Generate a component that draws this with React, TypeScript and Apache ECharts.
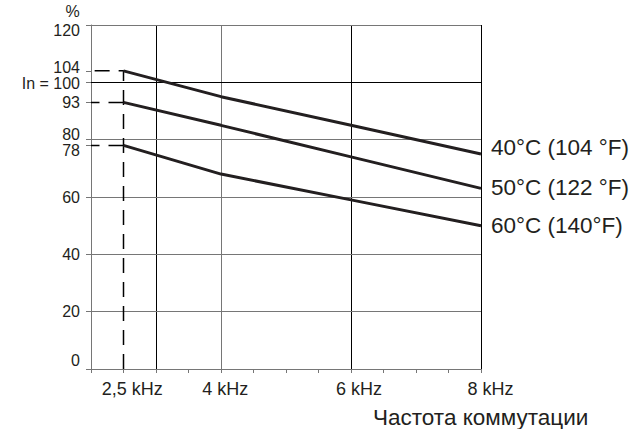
import React, { useEffect, useRef } from 'react';
import * as echarts from 'echarts';

// ---- data ----
const frequencies = [2.5, 4, 6, 8]; // kHz
const temp40 = [104, 95, 85, 75];
const temp50 = [93, 85, 74, 63];
const temp60 = [78, 68, 59, 50];
const seriesNames = ['40°C (104 °F)', '50°C (122 °F)', '60°C (140°F)'];

const yTickValues = [0, 20, 40, 60, 78, 80, 93, 100, 104, 120];
const yTickLabels = ['0', '20', '40', '60', '78', '80', '93', 'In = 100', '104', '120'];
const xTickValues = [2.5, 4, 6, 8];
const xTickLabels = ['2,5 kHz', '4 kHz', '6 kHz', '8 kHz'];
const xGridValues = [3, 4, 6, 8];
const yGridValues = [20, 40, 60, 80, 100, 120];
const yUnit = '%';
const xTitle = 'Частота коммутации';

const X_MIN = 2;
const X_MAX = 8;
const Y_MIN = 0;
const Y_MAX = 120;

// ---- styles / layout ----
const FONT = '"Liberation Sans", Arial, Helvetica, sans-serif';
const INK = '#231f20';
const GRAY = '#767676';
const BLACK = '#000000';
const xGridColors: Record<number, string> = { 3: BLACK, 4: GRAY, 6: BLACK, 8: BLACK };
const yGridColors: Record<number, string> = { 20: GRAY, 40: GRAY, 60: GRAY, 80: GRAY, 100: BLACK, 120: GRAY };
const yLabelShift: Record<number, number> = { 0: -9, 80: -5.5, 78: 5, 100: 1, 104: -3, 120: 5 };
const xLabelShift: Record<number, number> = { 2.5: 8.7, 4: 4.3, 6: 8, 8: 9.5 };
const endLabelDy = [-7, -1, 0];
const Y_LABEL_SIZE = 16;
const X_LABEL_SIZE = 18;
const BIG_SIZE = 22.5;

function idxOf(arr: number[], v: number) {
  return arr.findIndex((a) => Math.abs(a - v) < 1e-6);
}

function buildOption() {
  const yRich: Record<string, any> = {};
  yTickValues.forEach((v, i) => {
    const s = yLabelShift[v] || 0;
    yRich['y' + i] = {
      fontSize: Y_LABEL_SIZE,
      fontFamily: FONT,
      color: INK,
      padding: s < 0 ? [0, 0, -2 * s, 0] : [2 * s, 0, 0, 0],
    };
  });
  const xRich: Record<string, any> = {};
  xTickValues.forEach((v, i) => {
    const s = xLabelShift[v] || 0;
    xRich['x' + i] = {
      fontSize: X_LABEL_SIZE,
      fontFamily: FONT,
      color: INK,
      padding: [0, 0, 0, 2 * s],
    };
  });

  const curves = [temp40, temp50, temp60].map((vals, k) => ({
    type: 'line',
    name: seriesNames[k],
    data: frequencies.map((f, i) => [f, vals[i]]),
    symbol: 'none',
    showSymbol: false,
    z: 4,
    lineStyle: { color: INK, width: 3 },
    itemStyle: { color: INK },
    endLabel: {
      show: true,
      formatter: seriesNames[k],
      distance: 10,
      offset: [0, endLabelDy[k]],
      fontSize: BIG_SIZE,
      fontFamily: FONT,
      color: INK,
    },
    silent: true,
  }));

  const starts = [temp40[0], temp50[0], temp60[0]];
  const dashed = starts.map((s, k) => ({
    type: 'line',
    data:
      k === 0
        ? [[frequencies[0], Y_MIN], [frequencies[0], s], [X_MIN, s]]
        : [[frequencies[0], s], [X_MIN, s]],
    symbol: 'none',
    showSymbol: false,
    z: 3,
    clip: false,
    lineStyle: { color: BLACK, width: 1.5, type: [15, 9] },
    silent: true,
  }));

  const gridSeries = {
    type: 'line',
    data: [[X_MIN, Y_MIN]],
    symbol: 'none',
    showSymbol: false,
    z: 1,
    silent: true,
    lineStyle: { opacity: 0 },
    markLine: {
      silent: true,
      z: 1,
      animation: false,
      symbol: ['none', 'none'],
      label: { show: false },
      emphasis: { disabled: true },
      data: [
        ...xGridValues.map((v) => ({ xAxis: v, lineStyle: { color: xGridColors[v], width: 1, type: 'solid' } })),
        ...yGridValues.map((v) => ({ yAxis: v, lineStyle: { color: yGridColors[v], width: 1, type: 'solid' } })),
      ],
    },
  };

  return {
    animation: false,
    backgroundColor: '#ffffff',
    textStyle: { fontFamily: FONT },
    grid: { left: 91, top: 25, width: 390, height: 344, containLabel: false, outerBoundsMode: 'none' },
    xAxis: {
      type: 'value',
      min: X_MIN,
      max: X_MAX,
      interval: 0.5,
      axisLine: { show: true, onZero: false, lineStyle: { color: GRAY, width: 1 } },
      axisTick: { show: true, length: 4, lineStyle: { color: GRAY, width: 1 } },
      axisLabel: {
        show: true,
        customValues: xTickValues,
        margin: 11,
        fontSize: X_LABEL_SIZE,
        fontFamily: FONT,
        color: INK,
        formatter: (v: number) => {
          const i = idxOf(xTickValues, v);
          return i < 0 ? '' : `{x${i}|${xTickLabels[i]}}`;
        },
        rich: xRich,
      },
      splitLine: { show: false },
    },
    yAxis: {
      type: 'value',
      min: Y_MIN,
      max: Y_MAX,
      axisLine: { show: true, onZero: false, lineStyle: { color: GRAY, width: 1 } },
      axisTick: { show: true, customValues: yTickValues, length: 5, lineStyle: { color: GRAY, width: 1 } },
      axisLabel: {
        show: true,
        customValues: yTickValues,
        margin: 11,
        fontSize: Y_LABEL_SIZE,
        fontFamily: FONT,
        color: INK,
        formatter: (v: number) => {
          const i = idxOf(yTickValues, v);
          return i < 0 ? '' : `{y${i}|${yTickLabels[i]}}`;
        },
        rich: yRich,
      },
      splitLine: { show: false },
    },
    graphic: [
      {
        type: 'text',
        silent: true,
        style: {
          text: yUnit,
          x: 72.5,
          y: 11.5,
          align: 'center',
          verticalAlign: 'middle',
          font: `${Y_LABEL_SIZE}px ${FONT}`,
          fill: INK,
        },
      },
      {
        type: 'text',
        silent: true,
        style: {
          text: xTitle,
          x: 373,
          y: 417.5,
          align: 'left',
          verticalAlign: 'middle',
          font: `${BIG_SIZE}px ${FONT}`,
          fill: INK,
        },
      },
    ],
    series: [gridSeries, ...dashed, ...curves],
  };
}

export default function App() {
  const ref = useRef<HTMLDivElement>(null);
  useEffect(() => {
    document.body.style.margin = '0';
    const chart = echarts.init(ref.current as HTMLDivElement, null, { renderer: 'svg' });
    chart.setOption(buildOption() as any);
    return () => chart.dispose();
  }, []);
  return <div ref={ref} style={{ width: 632, height: 429 }} />;
}
